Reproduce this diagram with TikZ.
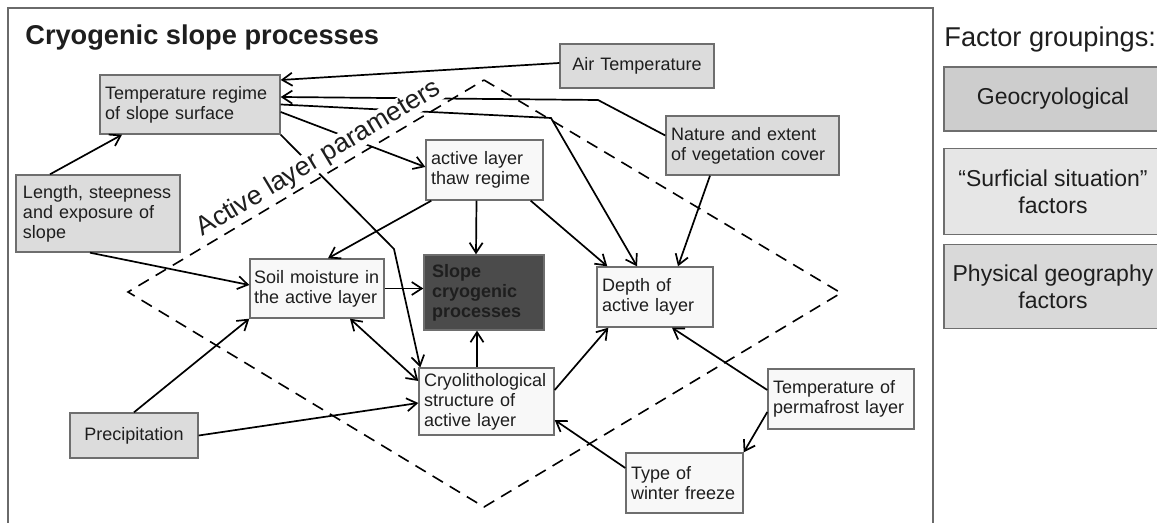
\documentclass[tikz,border=0pt]{standalone}
\usepackage{fontspec}
\setmainfont{Liberation Sans}
\usetikzlibrary{arrows.meta,positioning}

\definecolor{boxline}{HTML}{6E6E6E}
\definecolor{framecol}{HTML}{6A6A6A}
\definecolor{outerfill}{HTML}{DCDCDC}
\definecolor{innerfill}{HTML}{F8F8F8}
\definecolor{corefill}{HTML}{4B4B4B}
\definecolor{geofill}{HTML}{CDCDCD}
\definecolor{surffill}{HTML}{E6E6E6}
\definecolor{physfill}{HTML}{D9D9D9}
\definecolor{inkcol}{HTML}{1E1E1E}

\newcommand{\diagtitlefont}{\fontsize{13.6}{16}\selectfont\bfseries}
\newcommand{\boxtextfont}{\fontsize{9}{10}\selectfont}

\tikzset{
  basic box/.style = {
    shape = rectangle,
    align = left,
    draw  = boxline,
    fill  = #1,
    line width = 0.7pt,
    inner xsep = 2.5pt,
    inner ysep = 0pt,
    text = inkcol,
    font = \boxtextfont},
  group box/.style = {
    shape = rectangle,
    align = center,
    draw  = boxline,
    fill  = #1,
    line width = 0.7pt,
    minimum width = 109pt,
    text = inkcol,
    font = \fontsize{11.5}{13.5}\selectfont},
  link/.style = {->, line width = 0.85pt},
  region line/.style = {dashed, dash pattern = on 6pt off 4pt, line width = 0.8pt}
}

\begin{document}
\begin{tikzpicture}[x = 0.5pt, y = -0.5pt, >={Straight Barb[length=5pt,width=6.5pt]}]
  \useasboundingbox (0,0) rectangle (1157,523);
  \clip (0,0) rectangle (1157,523);
  \draw[framecol, line width = 0.7pt] (8,530) -- (8,8) -- (933,8) -- (933,530);
  \node[anchor = base west, inner sep = 0pt, text = inkcol, font = \diagtitlefont] (title) at (25,45) {Cryogenic slope processes};

  \node[basic box = outerfill, text width = 85pt, minimum height = 29.5pt] (tempreg) at (190,104.5) {Temperature regime\\of slope surface};
  \node[basic box = outerfill, inner xsep = 3.5pt, text width = 75pt, minimum height = 38.5pt] (length) at (98,213.5) {Length, steepness\\and exposure of\\slope};
  \node[basic box = outerfill, align = center, text width = 72pt, minimum height = 22pt] (airtemp) at (637,66) {Air Temperature};
  \node[basic box = outerfill, inner xsep = 2.5pt, text width = 81.5pt, minimum height = 29.5pt] (nature) at (752.5,145.5) {Nature and extent\\of vegetation cover};
  \node[basic box = outerfill, align = center, text width = 59pt, minimum height = 22.5pt] (precip) at (134,435.5) {Precipitation};
  \node[basic box = innerfill, text width = 53.5pt, minimum height = 30pt] (thaw) at (484.5,170) {active layer\\thaw regime};
  \node[basic box = innerfill, inner xsep = 2pt, text width = 63pt, minimum height = 29.5pt] (soil) at (317,288.5) {Soil moisture in\\the active layer};
  \node[basic box = corefill, inner xsep = 4pt, text width = 52pt, minimum height = 37.5pt, font = \boxtextfont\bfseries] (slope) at (484,292.5) {Slope\\cryogenic\\processes};
  \node[basic box = innerfill, text width = 53pt, minimum height = 30pt] (depth) at (655,297) {Depth of\\active layer};
  \node[basic box = innerfill, text width = 62.5pt, minimum height = 33.5pt] (cryo) at (486.5,401.5) {Cryolithological\\structure of\\active layer};
  \node[basic box = innerfill, text width = 53.5pt, minimum height = 30pt] (winter) at (684.5,483) {Type of\\winter freeze};
  \node[basic box = innerfill, text width = 68pt, minimum height = 30pt] (permafrost) at (841,399) {Temperature of\\permafrost layer};

  \coordinate (natbend) at (598,100);
  \coordinate (depbend) at (551,118);
  \coordinate (cryobend) at (394,249);
  \draw[link] ([yshift=1.5pt]airtemp.west) -- ([yshift=12.25pt]tempreg.east);
  \draw[link] ([yshift=5pt]nature.west) -- (natbend) -- ([yshift=3.75pt]tempreg.east);
  \draw[link] (tempreg.east) -- (depbend) -- ([xshift=-9pt]depth.north);
  \draw[link] ([yshift=-3.75pt]tempreg.east) -- ([yshift=1.5pt]thaw.west);
  \draw[link] (tempreg.south east) -- (cryobend) -- ([xshift=1pt]cryo.north west);
  \draw[link] ([xshift=-24pt]length.north) -- ([xshift=-34pt]tempreg.south);
  \draw[link] ([xshift=-4pt]length.south) -- ([yshift=1.75pt]soil.west);
  \draw[link] (precip.north) -- (soil.south west);
  \draw[link] (precip.east) -- ([yshift=-0.75pt]cryo.west);
  \draw[link, <->] ([xshift=16.5pt]soil.south) -- ([yshift=10.25pt]cryo.west);
  \draw[link] (soil.east) -- (soil.east -| slope.west);
  \draw[link] ([xshift=-4pt]thaw.south) -- ([xshift=-4pt]slope.north);
  \draw[link] ([xshift=-4.75pt]cryo.north) -- ([xshift=-3.5pt]slope.south);
  \draw[link] ([xshift=3pt]thaw.south west) -- ([xshift=5.5pt]soil.north);
  \draw[link] ([xshift=-6.5pt]thaw.south east) -- ([xshift=5.5pt]depth.north west);
  \draw[link] ([xshift=-21.25pt]nature.south) -- ([xshift=11.5pt]depth.north);
  \draw[link] ([yshift=5.75pt]cryo.east) -- ([xshift=6pt]depth.south west);
  \draw[link] ([yshift=4.5pt]permafrost.west) -- ([xshift=8.5pt]depth.south);
  \draw[link] ([yshift=-6.5pt]permafrost.west) -- (winter.north east);
  \draw[link] ([yshift=7.5pt]winter.west) -- ([yshift=-9.25pt]cryo.east);

  % active layer zone
  \node[rotate = 31, fill = white, inner sep = 0pt, text = inkcol, font = \fontsize{13.3}{16}\selectfont] (zone) at (319,159) {Active layer parameters};
  \draw[region line] (484,80) -- (841,293) -- (484,507) -- (128,292) -- cycle;

  % legend
  \node[anchor = base west, inner sep = 0pt, text = inkcol, font = \fontsize{13.6}{16}\selectfont] (legend) at (944,47) {Factor groupings:};
  \node[group box = geofill, minimum height = 32pt] (geo) at (1053,99) {Geocryological};
  \node[group box = surffill, minimum height = 43pt, below = 8pt of geo] (surf) {``Surficial situation''\\factors};
  \node[group box = physfill, minimum height = 42pt, below = 4.5pt of surf] (phys) {Physical geography\\factors};
\end{tikzpicture}
\end{document}
